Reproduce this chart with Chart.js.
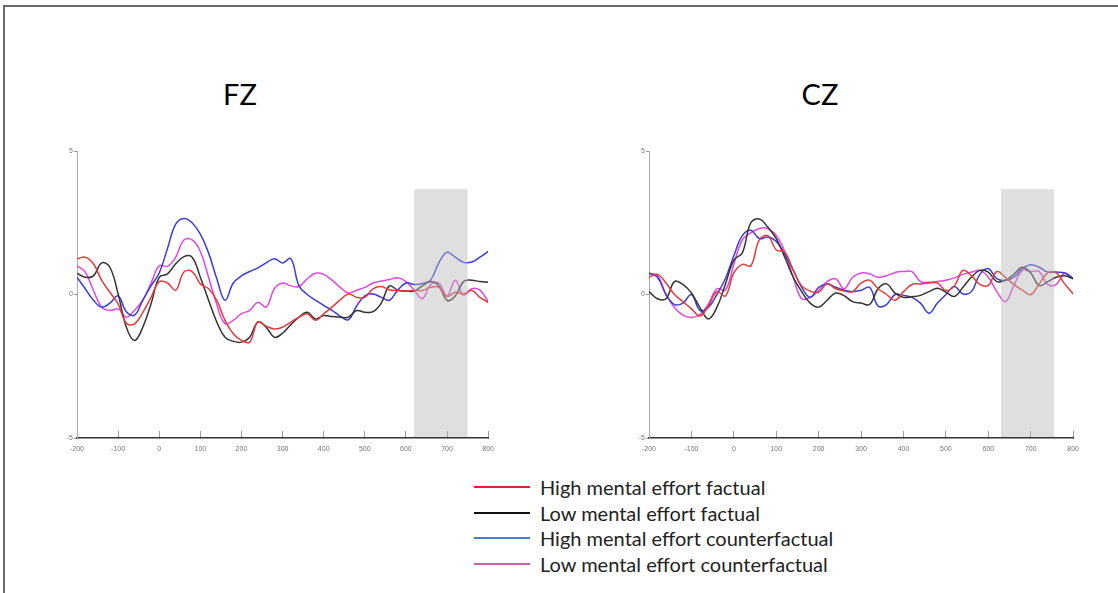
<!DOCTYPE html>
<html>
<head>
<meta charset="utf-8">
<script src="https://cdn.jsdelivr.net/npm/chart.js@4"></script>
<style>
  body { margin: 0; background: #fff; width: 1118px; height: 593px; overflow: hidden; position: relative; font-family: Lato, 'Open Sans', sans-serif; }
  .frame { position: absolute; left: 3px; top: 5px; width: 1200px; height: 700px; border-top: 2px solid #6a6a6a; border-left: 2px solid #6a6a6a; }
  .title { position: absolute; top: 76px; font-size: 29px; color: #000; width: 100px; text-align: center; }
  .box { position: absolute; }
  #legend { position: absolute; left: 474px; top: 474px; }
  .row { height: 25.7px; display: flex; align-items: center; font-size: 20px; color: #222; }
  .swatch { width: 56px; height: 2px; margin-right: 10px; }
</style>
</head>
<body>
<div class="frame"></div>
<div class="title" style="left:190px">FZ</div>
<div class="title" style="left:770px">CZ</div>
<div class="box" style="left:40px;top:140px;width:468px;height:320px"><canvas id="fzChart"></canvas></div>
<div class="box" style="left:610px;top:140px;width:483px;height:320px"><canvas id="czChart"></canvas></div>
<div id="legend"></div>
<script>
const times = [-200, -180, -160, -140, -120, -100, -80, -60, -40, -20, 0, 20, 40, 60, 80, 100, 120, 140, 160, 180, 200,
  220, 240, 260, 280, 300, 320, 340, 360, 380, 400, 420, 440, 460, 480, 500, 520, 540, 560, 580, 600,
  620, 640, 660, 680, 700, 720, 740, 760, 780, 800];

const seriesLabels = ['High mental effort factual', 'Low mental effort factual', 'High mental effort counterfactual', 'Low mental effort counterfactual'];
const lineColors = ['#e23c3c', '#333333', '#3c3cd8', '#e046e0'];
const legendColors = ['#e8203a', '#111111', '#4a7ec4', '#c75fa9'];

// FZ electrode
const fzHighFactual = [1.24, 1.3, 1.07, 0.49, 0.08, -0.33, -1.0, -1.02, -0.62, -0.1, 0.45, 0.4, 0.15, 0.78, 0.8, 0.37, 0.2, -0.2, -0.9, -1.37, -1.6,
  -1.66, -0.95, -1.1, -1.2, -1.14, -0.96, -0.79, -0.67, -0.9, -0.67, -0.44, -0.19, 0.02, -0.1, -0.1, 0.2, 0.28, 0.16, 0.14, 0.12,
  0.14, 0.14, 0.25, 0.25, -0.07, 0.08, 0.02, 0.14, -0.1, -0.27];
const fzLowFactual = [0.74, 0.6, 0.65, 1.1, 0.95, 0.02, -1.14, -1.6, -1.14, -0.33, 0.6, 0.72, 1.07, 1.32, 1.3, 0.6, -0.2, -0.96, -1.49, -1.63, -1.66,
  -1.49, -0.96, -1.14, -1.49, -1.35, -1.05, -0.79, -0.62, -0.85, -0.73, -0.77, -0.79, -0.79, -0.56, -0.62, -0.6, -0.3, 0.3, 0.15, 0.12,
  0.12, 0.3, 0.45, 0.3, -0.2, -0.05, 0.45, 0.5, 0.45, 0.43];
const fzHighCounter = [0.6, 0.2, -0.2, -0.44, -0.3, -0.05, -0.6, -0.72, -0.2, 0.3, 0.75, 1.6, 2.45, 2.65, 2.5, 2.1, 1.45, 0.55, -0.2, 0.4, 0.65,
  0.8, 0.93, 1.1, 1.25, 1.1, 1.25, 0.3, 0.0, -0.2, -0.38, -0.55, -0.75, -0.88, -0.4, -0.05, 0.02, -0.1, -0.2, 0.15, 0.4,
  0.35, 0.38, 0.5, 1.1, 1.47, 1.3, 1.12, 1.13, 1.3, 1.5];
const fzLowCounter = [1.0, 0.78, 0.14, -0.44, -0.56, -0.5, -0.79, -0.55, -0.2, 0.4, 1.0, 0.98, 1.3, 1.9, 1.9, 1.5, 0.6, -0.35, -1.02, -0.9, -0.67,
  -0.55, -0.27, -0.44, 0.2, 0.4, 0.3, 0.28, 0.55, 0.74, 0.7, 0.5, 0.25, 0.05, 0.15, 0.25, 0.4, 0.47, 0.52, 0.58, 0.45,
  0.15, -0.15, 0.35, 0.4, -0.05, 0.5, -0.02, 0.2, 0.15, -0.25];

// CZ electrode
const czHighFactual = [0.6, 0.7, 0.4, 0.0, -0.25, -0.5, -0.75, -0.4, 0.1, -0.05, 0.75, 1.05, 1.0, 1.9, 2.05, 1.55, 1.47, 0.85, 0.3, 0.12, 0.08,
  0.37, 0.2, 0.12, 0.1, 0.4, 0.5, 0.2, 0.0, -0.2, 0.1, 0.35, 0.37, 0.4, 0.4, 0.14, 0.3, 0.84, 0.66, 0.35, 0.32,
  0.8, 0.6, 0.35, 0.15, 0.0, 0.37, 0.75, 0.75, 0.37, 0.02];
const czLowFactual = [0.1, -0.15, -0.15, 0.45, 0.35, 0.05, -0.45, -0.85, -0.45, 0.35, 1.2, 1.45, 2.5, 2.63, 2.35, 1.95, 1.3, 0.6, 0.1, -0.3, -0.44,
  -0.2, 0.05, -0.04, -0.25, -0.3, -0.35, 0.2, 0.37, 0.05, -0.1, -0.08, -0.03, 0.1, 0.22, 0.08, -0.07, 0.25, 0.6, 0.84, 0.78,
  0.45, 0.5, 0.7, 0.95, 0.75, 0.31, 0.45, 0.6, 0.65, 0.55];
const czHighCounter = [0.75, 0.6, 0.0, -0.35, -0.3, 0.0, -0.55, -0.45, 0.0, 0.55, 1.35, 2.05, 2.24, 1.95, 2.0, 1.85, 1.4, 0.85, 0.25, -0.1, 0.25,
  0.37, 0.25, 0.15, 0.1, 0.15, 0.25, -0.4, -0.35, 0.0, -0.03, -0.1, -0.3, -0.65, -0.3, 0.0, 0.28, 0.02, 0.1, 0.7, 0.9,
  0.55, 0.49, 0.6, 0.9, 1.04, 0.95, 0.78, 0.78, 0.75, 0.55];
const czLowCounter = [0.72, 0.66, 0.0, -0.45, -0.72, -0.8, -0.7, -0.33, 0.2, 0.15, 1.05, 1.9, 2.15, 2.3, 2.3, 2.05, 1.5, 0.6, -0.15, -0.1, 0.14,
  0.45, 0.55, 0.2, 0.6, 0.75, 0.72, 0.6, 0.65, 0.77, 0.8, 0.8, 0.45, 0.43, 0.45, 0.5, 0.58, 0.7, 0.78, 0.84, 0.6,
  0.1, -0.25, 0.3, 0.84, 0.8, 0.8, 0.35, 0.35, 0.75, 0.55];

const fzWindow = [620, 750];
const czWindow = [630, 755];
const windowTop = 3.67;
const xTicks = [-200, -100, 0, 100, 200, 300, 400, 500, 600, 700, 800];
const yTicks = [-5, 0, 5];

const windowPlugin = {
  id: 'windowBox',
  afterDatasetsDraw(chart, args, opts) {
    const { ctx, chartArea, scales } = chart;
    const x1 = scales.x.getPixelForValue(opts.range[0]);
    const x2 = scales.x.getPixelForValue(opts.range[1]);
    const y1 = scales.y.getPixelForValue(opts.top);
    ctx.save();
    ctx.fillStyle = 'rgba(185, 185, 185, 0.45)';
    ctx.fillRect(x1, y1, x2 - x1, chartArea.bottom - 1 - y1);
    ctx.restore();
  },
};

// tick padding 14 also pads the right edge by 14 + half the "800" label, so the boxes are sized for that
function makeChart(id, seriesList, range, yWidth) {
  const ctx = document.getElementById(id).getContext('2d');
  return new Chart(ctx, {
    type: 'line',
    data: {
      datasets: seriesList.map((values, i) => ({
        label: seriesLabels[i],
        data: values.map((v, j) => ({ x: times[j], y: v })),
        borderColor: lineColors[i],
        borderWidth: 1.5,
        pointRadius: 0,
        tension: 0.4,
        fill: false,
      })),
    },
    options: {
      responsive: true,
      maintainAspectRatio: false,
      animation: false,
      layout: { padding: { left: 0, right: 0, top: 11, bottom: 0 } },
      plugins: {
        legend: { display: false },
        tooltip: { enabled: false },
        windowBox: { range: range, top: windowTop },
      },
      scales: {
        x: {
          type: 'linear',
          min: -200,
          max: 800,
          afterBuildTicks: (scale) => { scale.ticks = xTicks.map((v) => ({ value: v })); },
          afterFit: (scale) => { scale.height = 22; },
          border: { color: '#333', width: 1.5 },
          grid: { drawOnChartArea: false, tickLength: -7, tickColor: '#999', tickWidth: 1 },
          ticks: { padding: 14, color: '#777', font: { family: 'Liberation Sans', size: 7 }, maxRotation: 0 },
        },
        y: {
          min: -5,
          max: 5,
          afterBuildTicks: (scale) => { scale.ticks = yTicks.map((v) => ({ value: v })); },
          afterFit: (scale) => { scale.width = yWidth; },
          border: { color: '#aaa', width: 1 },
          grid: { drawOnChartArea: false, tickLength: 3, tickColor: '#999' },
          ticks: { padding: 1, color: '#777', font: { family: 'Liberation Sans', size: 7 } },
        },
      },
    },
    plugins: [windowPlugin],
  });
}

makeChart('fzChart', [fzHighFactual, fzLowFactual, fzHighCounter, fzLowCounter], fzWindow, 37);
makeChart('czChart', [czHighFactual, czLowFactual, czHighCounter, czLowCounter], czWindow, 39);

const legend = document.getElementById('legend');
legend.innerHTML = seriesLabels
  .map((label, i) => `<div class="row"><div class="swatch" style="background:${legendColors[i]}"></div><span>${label}</span></div>`)
  .join('');
</script>
</body>
</html>
